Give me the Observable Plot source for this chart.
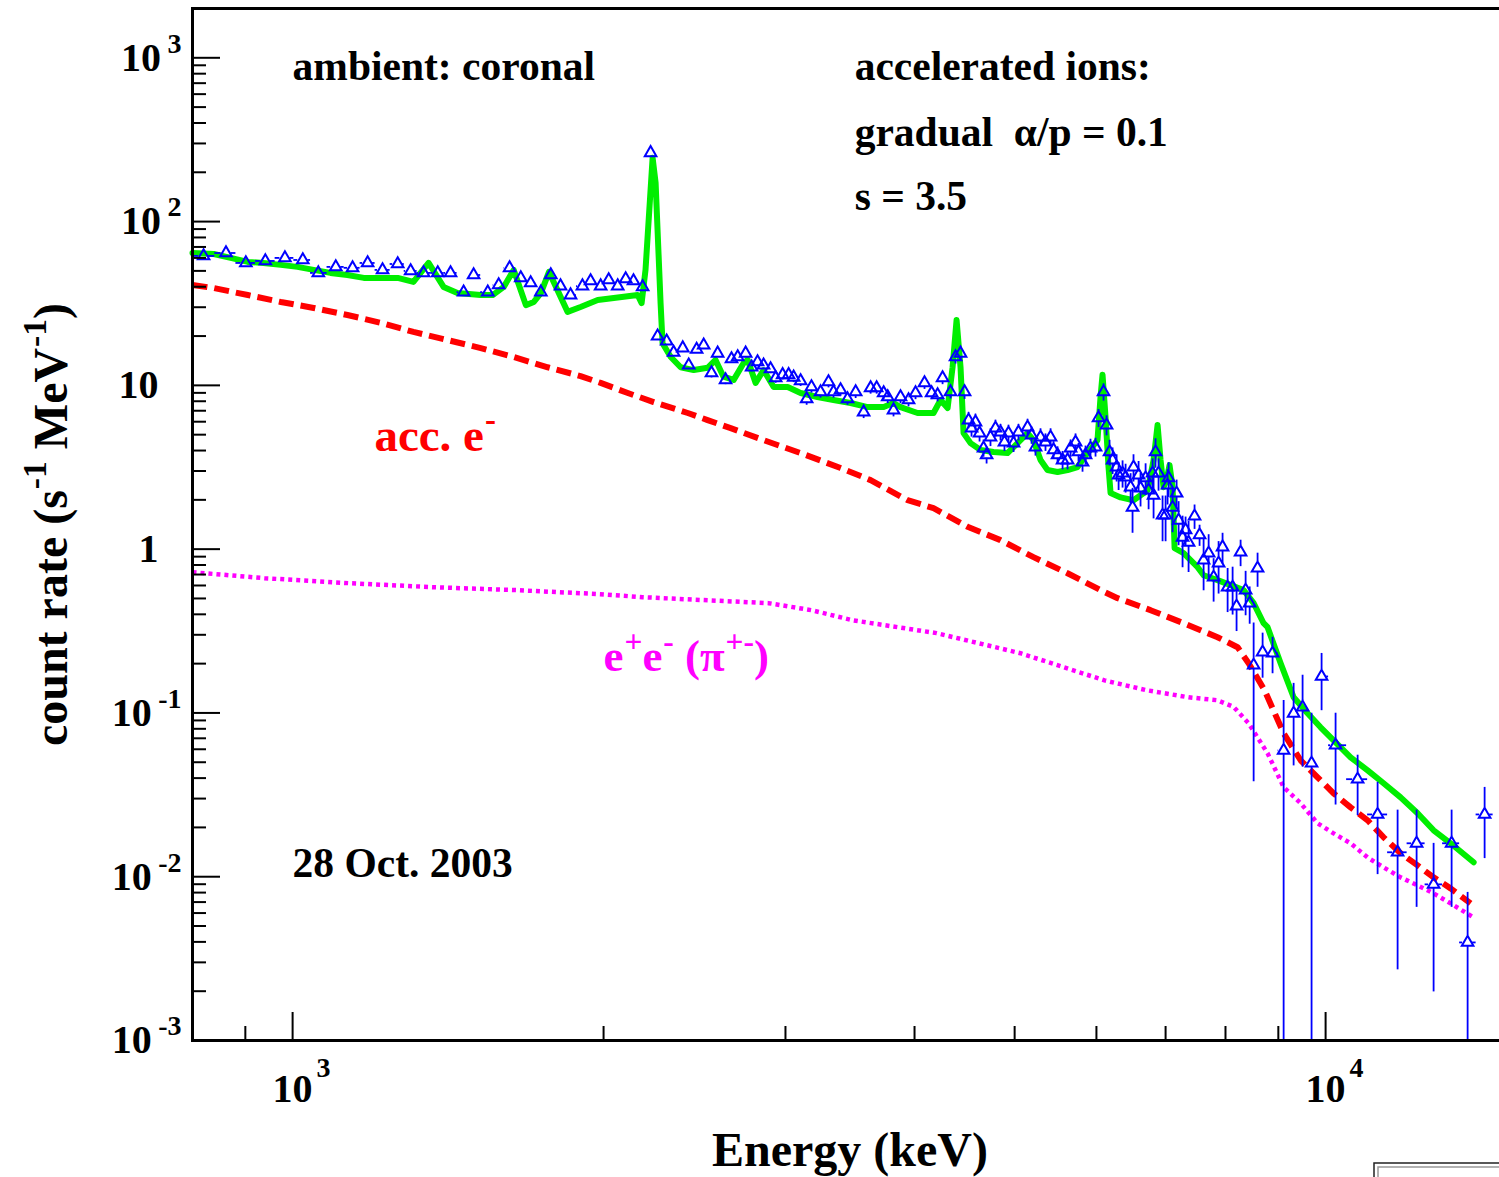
<!DOCTYPE html>
<html>
<head>
<meta charset="utf-8">
<script src="https://cdn.jsdelivr.net/npm/d3@7"></script>
<script src="https://cdn.jsdelivr.net/npm/@observablehq/plot@0.6"></script>
<style>
  html, body { margin: 0; padding: 0; background: #fff; }
  #chart { width: 1499px; height: 1177px; overflow: hidden; }
  #chart svg { max-width: none !important; width: 1507px !important; height: 1177px !important; }
</style>
</head>
<body>
<div id="chart"></div>
<script>
// Total model (ambient coronal, gradual accelerated ions, s = 3.5): energy in keV, count rate in s^-1 MeV^-1
const totalE = [800, 839, 871, 905, 937, 974, 1011, 1048, 1088, 1130,
  1172, 1217, 1264, 1309, 1354, 1400, 1444, 1521, 1562, 1601,
  1637, 1682, 1712, 1739, 1771, 1846, 1900, 1974, 2046, 2158,
  2177, 2196, 2231, 2246, 2271, 2281, 2323, 2375, 2445, 2522,
  2567, 2613, 2673, 2733, 2758, 2807, 2857, 2922, 3015, 3103,
  3222, 3339, 3469, 3603, 3734, 3817, 3877, 4027, 4173, 4239,
  4306, 4354, 4393, 4432, 4462, 4532, 4634, 4770, 4921, 4988,
  5066, 5146, 5215, 5297, 5380, 5502, 5626, 5752, 5882, 6014,
  6055, 6082, 6123, 6164, 6192, 6332, 6517, 6725, 6815, 6876,
  6922, 6968, 7015, 7062, 7110, 7142, 7287, 7401, 7518, 7619,
  7860, 8092, 8330, 8518, 8709, 8787, 9046, 9312, 9606, 9889,
  10180, 10573, 10982, 11380, 11820, 12276, 12722, 13213, 13909];
const totalRate = [64.3, 63.4, 60.0, 56.7, 55.9, 54.4, 52.9, 50.7, 48.6, 47.2,
  45.3, 45.3, 45.3, 42.8, 55.9, 39.9, 36.6, 35.6, 35.6, 39.9,
  50.7, 30.9, 32.3, 36.6, 49.3, 28.1, 30.1, 33.2, 34.2, 35.6,
  31.8, 50.7, 245, 172.6, 31.8, 18.1, 14.9, 12.9, 12.4, 12.8,
  14.3, 11.3, 10.8, 13.7, 14.3, 10.35, 12.4, 9.77, 9.77, 8.98,
  8.49, 8.14, 7.80, 7.37, 7.37, 7.80, 7.37, 6.78, 6.78, 8.14,
  7.27, 12.9, 25.1, 12.9, 5.11, 4.44, 4.03, 3.92, 3.86, 4.20,
  4.63, 5.11, 4.63, 3.50, 3.04, 2.96, 3.04, 3.17, 3.86, 4.63,
  8.49, 11.6, 6.40, 3.17, 2.20, 2.07, 1.99, 2.29, 3.50, 5.72,
  3.50, 2.39, 2.64, 3.26, 2.39, 1.014, 0.945, 0.857, 0.776, 0.693,
  0.647, 0.603, 0.562, 0.468, 0.353, 0.334, 0.201, 0.1246, 0.0995, 0.0817,
  0.0681, 0.0536, 0.0446, 0.0372, 0.0305, 0.0244, 0.0192, 0.0160, 0.01225];

// Accelerated-electron bremsstrahlung component
const electronE = [800, 839, 905, 974, 1048, 1130, 1217, 1309, 1413, 1521,
  1637, 1766, 1900, 1987, 2111, 2236, 2413, 2522, 2655, 2838,
  3103, 3392, 3627, 3939, 4173, 4502, 4845, 5215, 5626, 6055,
  6290, 6769, 7287, 7860, 8219, 8423, 8728, 9107, 9458, 9823,
  10180, 10573, 10982, 11380, 11820, 12276, 12722, 13213, 13816];
const electronRate = [41.0, 39.3, 35.6, 32.3, 29.7, 26.9, 24.1, 21.2, 18.9, 16.9,
  14.9, 12.9, 11.4, 10.35, 8.98, 7.91, 6.78, 6.14, 5.48, 4.70,
  3.86, 3.13, 2.64, 1.99, 1.78, 1.37, 1.135, 0.894, 0.713, 0.562,
  0.502, 0.424, 0.353, 0.290, 0.252, 0.201, 0.1376, 0.0751, 0.0514, 0.0404,
  0.0323, 0.0265, 0.0221, 0.0174, 0.0139, 0.01172, 0.00991, 0.00849, 0.00687];

// Pion-decay e+e- component
const pairE = [800, 939, 1133, 1366, 1648, 1987, 2182, 2889, 3179, 3485,
  4201, 5066, 6109, 6710, 7368, 7860, 8145, 8423, 8787, 9107,
  9458, 9823, 10180, 10573, 10982, 11380, 11820, 12276, 12722, 13213, 13909];
const pairRate = [0.723, 0.665, 0.620, 0.586, 0.562, 0.531, 0.509, 0.468, 0.424, 0.368,
  0.307, 0.2315, 0.158, 0.1376, 0.1246, 0.1195, 0.109, 0.0865, 0.0567, 0.0352,
  0.0281, 0.0212, 0.0184, 0.0160, 0.0131, 0.0114, 0.00991, 0.00885, 0.00791, 0.00687, 0.00564];

// Measured count spectrum, 28 Oct. 2003
const obsE = [820, 862, 901, 941, 983, 1023, 1059, 1101, 1143, 1182,
  1222, 1264, 1301, 1339, 1382, 1422, 1464, 1497, 1545, 1583,
  1622, 1663, 1700, 1739, 1778, 1817, 1858, 1908, 1943, 1987,
  2023, 2064, 2101, 2138, 2182, 2221, 2256, 2302, 2338, 2386,
  2418, 2461, 2500, 2544, 2579, 2625, 2660, 2697, 2745, 2782,
  2819, 2857, 2902, 2935, 2981, 3021, 3055, 3103, 3145, 3179,
  3244, 3302, 3339, 3392, 3445, 3508, 3571, 3627, 3676, 3734,
  3768, 3817, 3877, 3947, 4009, 4090, 4155, 4211, 4258, 4334,
  4383, 4432, 4472, 4512, 4542, 4582, 4624, 4665, 4697, 4738,
  4791, 4845, 4888, 4932, 4988, 5043, 5146, 5192, 5238, 5297,
  5356, 5417, 5453, 5502, 5564, 5626, 5664, 5727, 5765, 5817,
  5856, 5921, 5988, 6028, 6096, 6137, 6178, 6220, 6276, 6304,
  6360, 6403, 6475, 6503, 6517, 6591, 6620, 6695, 6740, 6800,
  6815, 6845, 6891, 6953, 7000, 7031, 7047, 7110, 7174, 7206,
  7270, 7319, 7368, 7467, 7551, 7619, 7705, 7791, 7878, 7948,
  8038, 8128, 8200, 8274, 8367, 8443, 8518, 8593, 8690, 8885,
  9107, 9312, 9500, 9692, 9911, 10225, 10740, 11229, 11741, 12249,
  12722, 13243, 13724, 14254];
const obsRate = [61.7, 64.3, 55.9, 57.5, 60.0, 58.3, 48.6, 52.9, 52.2, 55.9,
  50.7, 55.1, 50.0, 48.6, 48.6, 48.6, 37.1, 47.2, 37.1, 41.0,
  52.2, 45.3, 42.2, 37.1, 47.2, 40.4, 35.6, 40.4, 43.4, 40.4,
  44.0, 40.4, 44.6, 43.4, 39.9, 263, 20.0, 18.6, 15.9, 16.9,
  13.3, 16.6, 17.6, 11.9, 15.7, 10.8, 14.5, 14.9, 15.7, 12.9,
  13.9, 13.3, 12.6, 11.1, 11.6, 11.6, 11.2, 10.65, 8.26, 9.77,
  9.11, 10.5, 9.11, 9.37, 8.26, 9.11, 6.87, 9.64, 9.64, 8.98,
  8.49, 7.07, 8.49, 8.14, 8.98, 10.35, 8.98, 8.73, 11.1, 9.11,
  14.9, 15.7, 9.11, 6.14, 5.48, 5.97, 5.11, 4.14, 3.76, 4.83,
  5.48, 5.18, 4.50, 5.11, 4.44, 5.18, 5.56, 4.97, 4.20, 4.83,
  4.50, 4.83, 4.03, 3.76, 3.50, 3.50, 4.14, 4.50, 3.92, 3.40,
  3.76, 4.14, 4.20, 6.32, 9.11, 5.72, 3.92, 3.50, 3.17, 2.83,
  2.91, 2.75, 2.39, 1.80, 3.17, 2.83, 2.36, 2.72, 2.29, 2.91,
  2.13, 3.92, 2.91, 1.61, 1.61, 2.46, 2.72, 1.80, 2.20, 1.50,
  1.18, 1.31, 1.10, 1.59, 1.22, 0.857, 0.945, 0.675, 0.822, 1.03,
  0.586, 0.586, 0.449, 0.958, 0.562, 0.468, 0.196, 0.765, 0.235, 0.2315,
  0.0591, 0.0995, 0.1083, 0.0493, 0.167, 0.0635, 0.0394, 0.0240, 0.0141, 0.0160,
  0.00898, 0.0160, 0.00397, 0.0240];
const obsErr = [2.5, 2.6, 2.2, 2.3, 2.4, 2.3, 1.9, 2.1, 2.1, 2.2,
  2.0, 2.2, 2.0, 1.9, 1.9, 1.9, 1.5, 1.9, 1.5, 1.6,
  2.1, 1.8, 1.7, 1.5, 1.9, 1.6, 1.4, 1.6, 1.7, 1.6,
  1.8, 1.6, 1.8, 1.7, 1.6, 8, 1.1, 1.0, 0.9, 0.9,
  0.8, 0.9, 1.0, 0.8, 0.9, 0.7, 0.9, 0.9, 1.0, 0.8,
  0.9, 0.8, 0.8, 0.8, 0.8, 0.8, 0.8, 0.8, 0.7, 0.8,
  0.75, 0.85, 0.75, 0.8, 0.7, 0.8, 0.6, 0.8, 0.8, 0.8,
  0.75, 0.65, 0.75, 0.75, 0.8, 0.9, 0.8, 0.8, 1.0, 0.85,
  1.4, 1.4, 0.9, 0.7, 0.65, 0.7, 0.6, 0.5, 0.45, 0.6,
  0.65, 0.6, 0.55, 0.6, 0.55, 0.6, 0.65, 0.6, 0.5, 0.6,
  0.55, 0.6, 0.5, 0.45, 0.45, 0.45, 0.5, 0.55, 0.5, 0.45,
  0.5, 0.55, 0.55, 0.8, 1.1, 0.8, 0.7, 0.65, 0.6, 0.55,
  0.55, 0.55, 0.5, 0.55, 0.6, 0.6, 0.55, 0.6, 0.55, 0.65,
  0.6, 0.8, 0.65, 0.5, 0.5, 0.6, 0.65, 0.54, 0.44, 0.45,
  0.41, 0.26, 0.38, 0.27, 0.18, 0.30, 0.28, 0.20, 0.29, 0.22,
  0.176, 0.19, 0.135, 0.176, 0.17, 0.12, 0.158, 0.18, 0.072, 0.058,
  0.060, 0.052, 0.0616, 0.0503, 0.0638, 0.0361, 0.0158, 0.0137, 0.0114, 0.0095,
  0.0070, 0.0095, 0.00405, 0.0111];

// Axis tick labels
const yTickValues = [1e-3, 1e-2, 1e-1, 1, 10, 100, 1000];
const yTickLabels = ["10^{-3}", "10^{-2}", "10^{-1}", "1", "10", "10^{2}", "10^{3}"];
const xTickValues = [1000, 10000];
const xTickLabels = ["10^{3}", "10^{4}"];

// Layout (the frame continues a few pixels past the visible right edge)
const W = 1507, H = 1177, ML = 192, MR = 0, MT = 8, MB = 137;
const xDomain = [800, 15000], yDomain = [1e-3, 2e3];
const pxPerDecX = (W - ML - MR) / Math.log10(xDomain[1] / xDomain[0]);
const pxPerDecY = (H - MT - MB) / Math.log10(yDomain[1] / yDomain[0]);
const facX = px => Math.pow(10, px / pxPerDecX);
const facY = px => Math.pow(10, px / pxPerDecY);

const zip = (E, R) => E.map((e, i) => ({e, rate: R[i]}));
const total = zip(totalE, totalRate);
const electron = zip(electronE, electronRate);
const pair = zip(pairE, pairRate);
const obs = obsE.map((e, i) => ({e, rate: obsRate[i], err: obsErr[i]}));

// Bin edges halfway (in log) between neighbouring channels
const order = d3.range(obs.length).sort((a, b) => obs[a].e - obs[b].e);
order.forEach((idx, k) => {
  const e = obs[idx].e;
  const prev = k > 0 ? obs[order[k - 1]].e : null;
  const next = k < order.length - 1 ? obs[order[k + 1]].e : null;
  const hi = next ? Math.sqrt(e * next) : null;
  const lo = prev ? Math.sqrt(e * prev) : null;
  obs[idx].lo = lo ?? e * e / hi;
  obs[idx].hi = hi ?? e * e / lo;
});

// Error bars stop at the marker outline
const R = 4.3;
const gapX = facX(5), gapUp = facY(R * 1.56), gapDown = facY(R * 0.78);
const vBars = [], hBars = [];
for (const d of obs) {
  const top = d.rate + d.err, bottom = Math.max(d.rate - d.err, yDomain[0]);
  if (top > d.rate * gapUp) vBars.push({e: d.e, y1: d.rate * gapUp, y2: top});
  if (bottom < d.rate / gapDown) vBars.push({e: d.e, y1: d.rate / gapDown, y2: bottom});
  if (d.lo < d.e / gapX) hBars.push({rate: d.rate, x1: d.lo, x2: d.e / gapX});
  if (d.hi > d.e * gapX) hBars.push({rate: d.rate, x1: d.e * gapX, x2: d.hi});
}

// Tick positions: decades and their 2..9 subdivisions
const yMajor = yTickValues;
const yMinor = [];
for (let k = -3; k <= 3; k++) for (let m = 2; m <= 9; m++) {
  const v = m * Math.pow(10, k);
  if (v <= yDomain[1]) yMinor.push(v);
}
const xMajor = xTickValues;
const xMinor = [900, 2000, 3000, 4000, 5000, 6000, 7000, 8000, 9000];

const serif = {fontFamily: "Liberation Serif", fontWeight: "bold"};
const tickFont = 40;
const yTicks = yTickValues.map((v, i) => ({v, label: yTickLabels[i]}));
const xTicks = xTickValues.map((v, i) => ({v, label: xTickLabels[i]}));

const notes = [
  {e: 1000, v: 730, t: "ambient: coronal"},
  {e: 3500, v: 730, t: "accelerated ions:"},
  {e: 3500, v: 290, t: "gradual\u00a0 α/p = 0.1"},
  {e: 3500, v: 118, t: "s = 3.5"},
  {e: 1000, v: 0.0099, t: "28 Oct. 2003"}
];

const chart = Plot.plot({
  width: W, height: H,
  marginLeft: ML, marginRight: MR, marginTop: MT, marginBottom: MB,
  style: {background: "white", fontFamily: "Liberation Serif", maxWidth: "none"},
  x: {type: "log", domain: xDomain, label: null},
  y: {type: "log", domain: yDomain, label: null},
  marks: [
    Plot.line(total, {x: "e", y: "rate", stroke: "#00ee00", strokeWidth: 6, strokeLinejoin: "round"}),
    Plot.line(electron, {x: "e", y: "rate", stroke: "#ff0000", strokeWidth: 6, strokeDasharray: "15,7", strokeLinecap: "butt"}),
    Plot.line(pair, {x: "e", y: "rate", stroke: "#ff00ff", strokeWidth: 4.5, strokeDasharray: "4,4", strokeLinecap: "butt"}),
    Plot.ruleX(vBars, {x: "e", y1: "y1", y2: "y2", stroke: "#0000ff", strokeWidth: 1.8}),
    Plot.ruleY(hBars, {y: "rate", x1: "x1", x2: "x2", stroke: "#0000ff", strokeWidth: 1.8}),
    Plot.dot(obs, {x: "e", y: "rate", symbol: "triangle", r: R, stroke: "#0000ff", strokeWidth: 2, fill: "none"}),

    Plot.axisY(yMajor, {anchor: "left", tickSize: -28, strokeWidth: 2, tickFormat: () => "", label: null}),
    Plot.axisY(yMinor, {anchor: "left", tickSize: -14, strokeWidth: 2, tickFormat: () => "", label: null}),
    Plot.axisX(xMajor, {anchor: "bottom", tickSize: -28, strokeWidth: 2, tickFormat: () => "", label: null}),
    Plot.axisX(xMinor, {anchor: "bottom", tickSize: -14, strokeWidth: 2, tickFormat: () => "", label: null}),
    Plot.frame({stroke: "black", strokeWidth: 3}),

    Plot.text(yTicks.filter(d => d.label.includes("^")), {y: "v", text: "label", frameAnchor: "left", textAnchor: "end", dx: -11, fontSize: tickFont, fill: "black", ariaDescription: "y-tick-label", ...serif}),
    Plot.text(yTicks.filter(d => !d.label.includes("^")), {y: "v", text: "label", frameAnchor: "left", textAnchor: "end", dx: -34, fontSize: tickFont, fill: "black", ariaDescription: "y-tick-label", ...serif}),
    Plot.text(xTicks, {x: "v", text: "label", frameAnchor: "bottom", textAnchor: "start", dx: -tickFont / 2, dy: 61, fontSize: tickFont, fill: "black", ariaDescription: "x-tick-label", ...serif}),

    Plot.text(["count rate (s^{-1} MeV^{-1})"], {text: d => d, frameAnchor: "left", rotate: -90, dx: -126, lineAnchor: "bottom", textAnchor: "middle", fontSize: 48, fill: "black", ...serif}),
    Plot.text(["Energy (keV)"], {text: d => d, frameAnchor: "bottom", dy: 125, lineAnchor: "bottom", textAnchor: "middle", fontSize: 48, fill: "black", ...serif}),

    Plot.text(notes, {x: "e", y: "v", text: "t", textAnchor: "start", lineAnchor: "bottom", fontSize: 41.5, fill: "black", ...serif}),
    Plot.text([{e: 1200, v: 4.0, t: "acc. e^{-}"}], {x: "e", y: "v", text: "t", textAnchor: "start", lineAnchor: "bottom", fontSize: 47, fill: "#ff0000", ...serif}),
    Plot.text([{e: 2000, v: 0.18, t: "e^{+}e^{-} (π^{+-})"}], {x: "e", y: "v", text: "t", textAnchor: "start", lineAnchor: "bottom", fontSize: 45, fill: "#ff00ff", ...serif})
  ]
});

document.getElementById("chart").appendChild(chart);

// Turn ^{...} runs into raised, smaller tspans; tick labels set their exponent further out
const supStyle = {
  "y-tick-label": {rise: 0.45, gap: 0.16},
  "x-tick-label": {rise: 0.62, gap: 0.1},
  default: {rise: 0.42, gap: 0.02}
};
function setSuperscripts(svg) {
  const NS = "http://www.w3.org/2000/svg";
  svg.querySelectorAll("text").forEach(t => {
    const s = t.textContent;
    if (!s.includes("^{") || t.children.length) return;
    const group = t.closest("g[aria-description]");
    const st = supStyle[group && group.getAttribute("aria-description")] || supStyle.default;
    const fs = parseFloat(getComputedStyle(t).fontSize) || 40;
    const rise = fs * st.rise;
    const parts = s.split(/(\^\{[^}]*\})/).filter(p => p.length);
    t.textContent = "";
    let raised = false;
    for (const p of parts) {
      const ts = document.createElementNS(NS, "tspan");
      if (p.startsWith("^{")) {
        ts.textContent = p.slice(2, -1);
        ts.setAttribute("font-size", (fs * 0.7).toFixed(1));
        ts.setAttribute("dy", (-rise).toFixed(1));
        ts.setAttribute("dx", (fs * st.gap).toFixed(1));
        raised = true;
      } else {
        ts.textContent = p;
        if (raised) { ts.setAttribute("dy", rise.toFixed(1)); raised = false; }
      }
      t.appendChild(ts);
    }
  });
}
setSuperscripts(chart);

// Corner of the statistics box below the frame
const svgSel = d3.select(chart);
svgSel.append("rect").attr("x", 1374).attr("y", 1163).attr("width", 200).attr("height", 60)
  .attr("fill", "none").attr("stroke", "#222").attr("stroke-width", 1.5);
svgSel.append("rect").attr("x", 1378).attr("y", 1167).attr("width", 200).attr("height", 60)
  .attr("fill", "none").attr("stroke", "#999").attr("stroke-width", 1.5);
</script>
</body>
</html>
